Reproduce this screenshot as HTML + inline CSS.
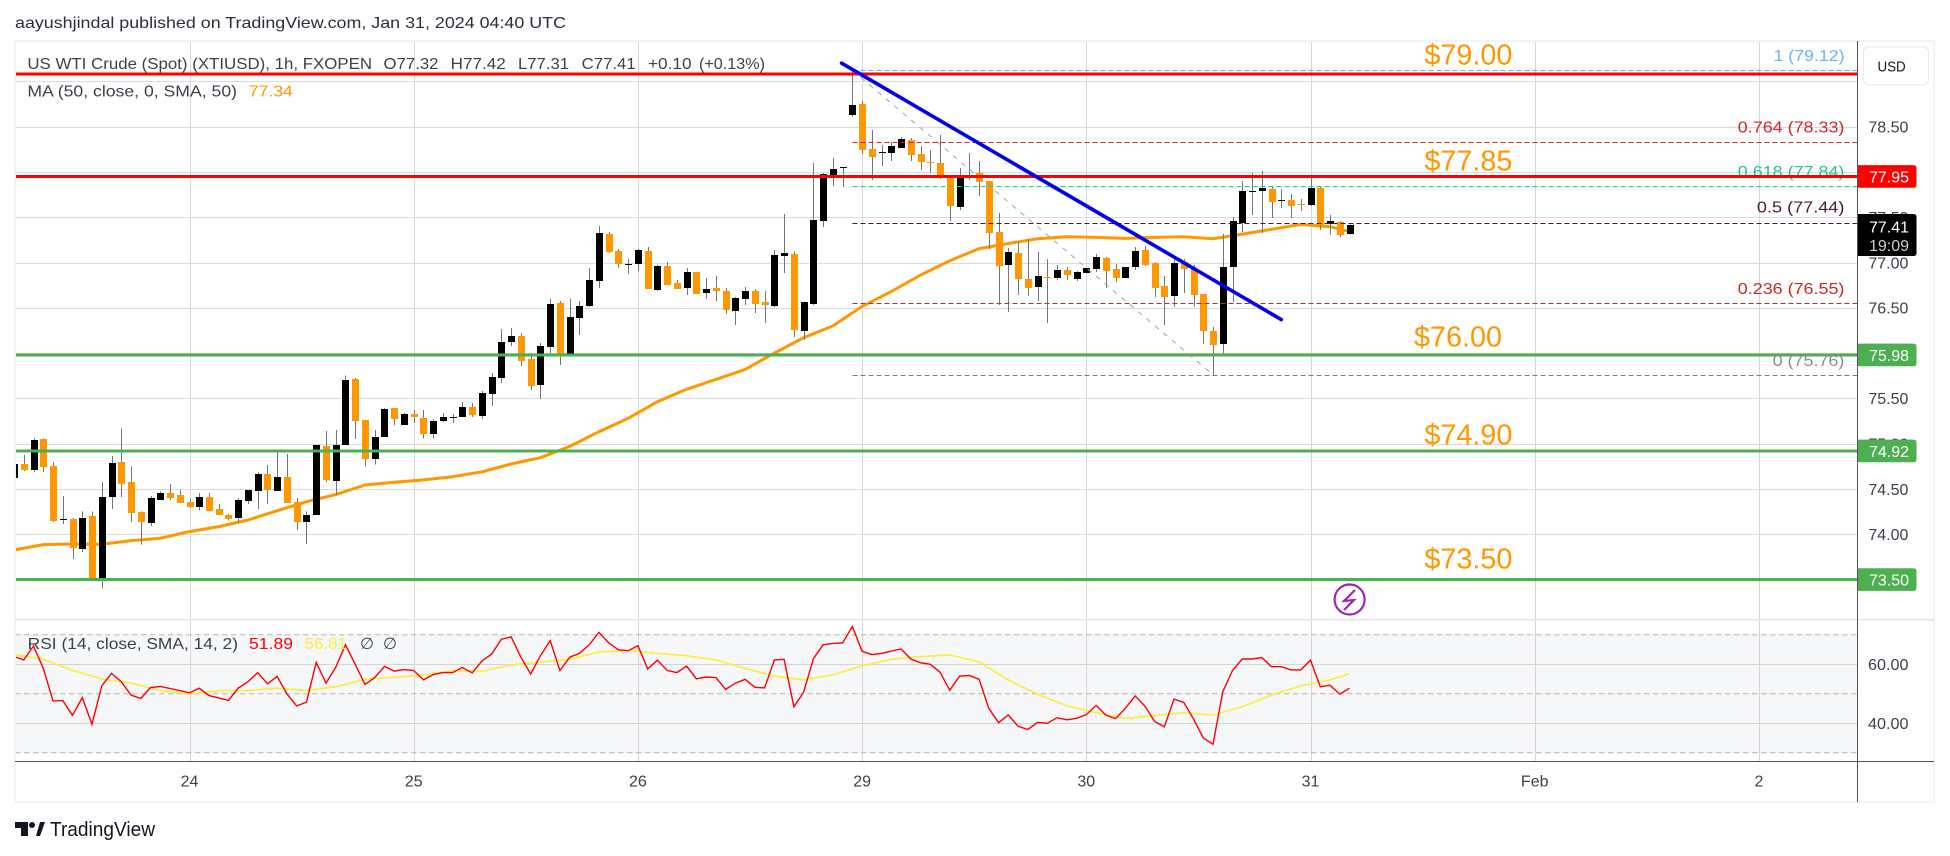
<!DOCTYPE html>
<html lang="en">
<head>
<meta charset="utf-8">
<title>US WTI Crude (Spot) chart</title>
<style>
html,body{margin:0;padding:0;background:#fff;width:1950px;height:856px;overflow:hidden}
svg{display:block}
text{font-family:"Liberation Sans",sans-serif;font-size:16px}
</style>
</head>
<body>
<svg id="chart" width="1950" height="856" viewBox="0 0 1950 856" xmlns="http://www.w3.org/2000/svg">
  <text x="15" y="28" textLength="551" lengthAdjust="spacingAndGlyphs" fill="#2a2e39">aayushjindal published on TradingView.com, Jan 31, 2024 04:40 UTC</text>
  <g id="rsi-band-layer"></g>
  <g id="grid-layer"></g>
  <g id="legend-layer">
    <text x="27.4" y="69" textLength="344.6" lengthAdjust="spacingAndGlyphs" fill="#3d404a">US WTI Crude (Spot) (XTIUSD), 1h, FXOPEN</text>
    <text x="383.5" y="69" textLength="55" lengthAdjust="spacingAndGlyphs" fill="#3d404a">O77.32</text>
    <text x="450.7" y="69" textLength="55" lengthAdjust="spacingAndGlyphs" fill="#3d404a">H77.42</text>
    <text x="518" y="69" textLength="51" lengthAdjust="spacingAndGlyphs" fill="#3d404a">L77.31</text>
    <text x="581.7" y="69" textLength="54" lengthAdjust="spacingAndGlyphs" fill="#3d404a">C77.41</text>
    <text x="648" y="69" textLength="43.5" lengthAdjust="spacingAndGlyphs" fill="#3d404a">+0.10</text>
    <text x="699" y="69" textLength="66" lengthAdjust="spacingAndGlyphs" fill="#3d404a">(+0.13%)</text>
    <text x="27.4" y="96.5" textLength="209.6" lengthAdjust="spacingAndGlyphs" fill="#3d404a">MA (50, close, 0, SMA, 50)</text>
    <text x="248.8" y="96.5" textLength="44" lengthAdjust="spacingAndGlyphs" fill="#ff9800">77.34</text>
  </g>
  <g id="fib-label-layer">
    <text x="1773.5" y="61" textLength="71" lengthAdjust="spacingAndGlyphs" fill="#64b5f6">1 (79.12)</text>
    <text x="1737.8" y="132.7" textLength="106.6" lengthAdjust="spacingAndGlyphs" fill="#d81f2a">0.764 (78.33)</text>
    <text x="1737.8" y="177" textLength="106.6" lengthAdjust="spacingAndGlyphs" fill="#22c490">0.618 (77.84)</text>
    <text x="1756.9" y="212.7" textLength="87.5" lengthAdjust="spacingAndGlyphs" fill="#4a1a3a">0.5 (77.44)</text>
    <text x="1737.8" y="294" textLength="106.6" lengthAdjust="spacingAndGlyphs" fill="#c62828">0.236 (76.55)</text>
    <text x="1772.6" y="366" textLength="71.8" lengthAdjust="spacingAndGlyphs" fill="#8c8c8c">0 (75.76)</text>
  </g>
  <g id="ma-layer"></g>
  <g id="candle-layer" shape-rendering="crispEdges"></g>
  <g id="fib-layer"></g>
  <g id="level-layer"></g>
  <g id="trend-layer"></g>
  <g fill="#ff9800">
    <text x="1424.4" y="64.5" textLength="88" lengthAdjust="spacingAndGlyphs" style="font-size:29px" fill="#ff9800">$79.00</text>
    <text x="1424.4" y="170.7" textLength="88" lengthAdjust="spacingAndGlyphs" style="font-size:29px" fill="#ff9800">$77.85</text>
    <text x="1414" y="346.7" textLength="88" lengthAdjust="spacingAndGlyphs" style="font-size:29px" fill="#ff9800">$76.00</text>
    <text x="1424.4" y="444.3" textLength="88" lengthAdjust="spacingAndGlyphs" style="font-size:29px" fill="#ff9800">$74.90</text>
    <text x="1424.4" y="568.3" textLength="88" lengthAdjust="spacingAndGlyphs" style="font-size:29px" fill="#ff9800">$73.50</text>
  </g>
  <g>
    <circle cx="1349.6" cy="599.5" r="15" fill="#fff" stroke="#9c27b0" stroke-width="2.2"/>
    <path d="M1355 590 L1344 601 L1354 600 L1344 610" fill="none" stroke="#9c27b0" stroke-width="2.2"/>
  </g>
  <g id="rsi-layer"></g>
  <g>
    <text x="27.7" y="649" textLength="210.3" lengthAdjust="spacingAndGlyphs" fill="#3d404a">RSI (14, close, SMA, 14, 2)</text>
    <text x="249" y="649" textLength="44" lengthAdjust="spacingAndGlyphs" fill="#ff0000">51.89</text>
    <text x="304.5" y="649" textLength="42.5" lengthAdjust="spacingAndGlyphs" fill="#ffeb3b">56.81</text>
    <text x="360" y="649" fill="#3d404a">∅</text>
    <text x="383" y="649" fill="#3d404a">∅</text>
  </g>
  <g shape-rendering="crispEdges">
    <rect x="15" y="41" width="1919" height="761" fill="none" stroke="#f0f3fa" stroke-width="2"/>
    <rect x="15" y="619" width="1919" height="1.6" fill="#e3e5ec"/>
    <line x1="15" y1="761.5" x2="1934" y2="761.5" stroke="#50535e" stroke-width="1"/>
    <line x1="1857.5" y1="41" x2="1857.5" y2="802" stroke="#50535e" stroke-width="1"/>
  </g>
  <g id="axis-layer"></g>
  <g id="badge-layer"></g>
  <g>
    <rect x="1863.5" y="47" width="65" height="38" rx="5" fill="#fff" stroke="#e6e8ef" stroke-width="1"/>
    <text x="1877.5" y="71.7" textLength="28.2" lengthAdjust="spacingAndGlyphs" style="font-size:15px" fill="#131722">USD</text>
  </g>
  <g>
    <path d="M15 822 H28 V836 H21 V828 H15 Z" fill="#131722"/>
    <circle cx="32" cy="825" r="3" fill="#131722"/>
    <path d="M36 836 L40 822 H45 L40 836 Z" fill="#131722"/>
    <text x="50" y="836" textLength="105" lengthAdjust="spacingAndGlyphs" style="font-size:20px" fill="#131722">TradingView</text>
  </g>
</svg>
<script>
const opens = [74.622,74.776,74.71,75.05,74.754,74.16,74.17,73.84,74.2,73.51,74.41,74.8,74.578,74.247,74.125,74.38,74.456,74.435,74.357,74.3,74.41,74.28,74.213,74.18,74.37,74.478,74.666,74.478,74.633,74.357,74.136,74.213,74.975,74.589,74.986,75.714,75.262,74.83,75.073,75.394,75.206,75.327,75.283,75.106,75.25,75.283,75.294,75.405,75.305,75.548,75.725,76.122,76.188,75.934,75.647,76.067,76.553,75.99,76.387,76.519,76.795,77.314,77.126,76.972,76.983,77.126,76.696,76.961,76.773,76.718,76.895,76.664,76.719,76.686,76.465,76.597,76.686,76.564,76.52,77.072,77.094,76.244,76.542,77.458,77.966,78.043,78.628,78.75,78.253,78.209,78.209,78.264,78.352,78.198,78.11,78.099,77.966,77.613,77.955,77.988,77.9,77.337,76.973,77.105,76.818,76.729,76.84,76.829,76.917,76.818,76.884,76.928,77.049,76.928,76.829,76.95,77.138,76.994,76.74,76.63,77.005,76.928,76.652,76.244,76.1,76.95,77.436,77.778,77.789,77.811,77.679,77.69,77.645,77.634,77.822,77.425,77.447,77.32];
const highs = [74.776,74.876,75.06,75.06,74.79,74.42,74.18,74.25,74.25,74.58,74.865,75.17,74.75,74.25,74.42,74.47,74.555,74.49,74.39,74.456,74.456,74.335,74.225,74.4,74.49,74.68,74.765,74.91,74.887,74.4,74.25,74.986,75.14,75.15,75.755,75.725,75.262,75.15,75.394,75.394,75.338,75.37,75.37,75.272,75.338,75.327,75.46,75.449,75.58,75.78,76.266,76.277,76.221,75.967,76.111,76.597,76.575,76.597,76.575,76.939,77.402,77.336,77.149,77.038,77.149,77.171,76.972,77.005,76.806,76.939,76.895,76.829,76.851,76.719,76.619,76.73,76.708,76.686,77.138,77.536,77.124,76.564,78.099,77.988,78.154,78.054,79.12,78.783,78.463,78.297,78.33,78.385,78.374,78.286,78.242,78.408,77.966,78.043,78.209,78.121,77.9,77.547,77.16,77.226,77.259,77.116,77.038,76.972,76.95,76.906,76.939,77.093,77.06,76.983,76.95,77.171,77.182,77.005,76.851,77.06,77.038,76.972,76.652,76.288,77.314,77.502,77.899,77.988,78.01,77.833,77.811,77.756,77.701,77.932,77.844,77.524,77.458,77.42];
const lows = [74.622,74.7,74.69,74.69,74.136,74.115,73.73,73.805,73.51,73.4,74.28,74.41,74.136,73.89,74.09,74.38,74.38,74.346,74.29,74.26,74.258,74.213,74.15,74.125,74.335,74.28,74.335,74.478,74.346,74.05,73.893,74.213,74.578,74.435,74.986,75.05,74.746,74.77,75.073,75.206,75.206,75.228,75.06,75.06,75.239,75.228,75.294,75.294,75.272,75.416,75.67,76.078,75.857,75.592,75.493,76,75.868,75.979,76.199,76.508,76.718,77.104,76.939,76.873,76.906,76.707,76.685,76.751,76.707,76.641,76.653,76.597,76.575,76.432,76.31,76.531,76.443,76.332,76.509,76.884,76.178,76.145,76.531,77.392,77.845,77.834,78.606,78.198,77.911,78.065,78.121,78.264,78.121,78.021,77.988,77.922,77.458,77.58,77.911,77.734,77.149,76.531,76.454,76.642,76.63,76.575,76.332,76.807,76.807,76.795,76.884,76.895,76.718,76.784,76.829,76.917,76.961,76.619,76.31,76.508,76.663,76.508,76.1,75.758,75.979,76.564,77.336,77.524,77.325,77.491,77.601,77.491,77.568,77.623,77.358,77.303,77.281,77.31];
const closes = [74.776,74.71,75.04,74.74,74.147,74.17,73.85,74.18,73.52,74.41,74.79,74.556,74.236,74.136,74.4,74.456,74.4,74.346,74.3,74.41,74.258,74.213,74.17,74.38,74.49,74.666,74.49,74.633,74.346,74.136,74.213,74.986,74.6,74.986,75.703,75.25,74.83,75.07,75.383,75.272,75.327,75.294,75.106,75.25,75.294,75.294,75.405,75.316,75.559,75.736,76.122,76.188,75.912,75.636,76.078,76.541,75.99,76.398,76.519,76.806,77.325,77.115,76.983,76.983,77.137,76.707,76.961,76.751,76.707,76.895,76.653,76.708,76.686,76.476,76.608,76.686,76.542,76.531,77.083,77.105,76.255,76.564,77.469,77.977,78.032,78.054,78.739,78.242,78.165,78.22,78.286,78.363,78.187,78.11,78.099,77.944,77.624,77.955,77.966,77.889,77.326,76.962,77.116,76.818,76.718,76.851,76.829,76.917,76.862,76.895,76.939,77.06,76.906,76.829,76.95,77.127,76.972,76.718,76.619,76.994,76.928,76.641,76.244,76.089,76.95,77.458,77.789,77.789,77.822,77.667,77.69,77.623,77.634,77.822,77.414,77.458,77.303,77.41];
const maBars = [0,3,6,9,12,15,18,21,24,27,30,33,36,39,42,45,48,51,54,57,60,63,66,69,72,75,78,81,84,87,90,93,96,99,102,105,108,111,114,117,120,123,126,129,132,135,137];
const maValues = [73.827,73.886,73.893,73.89,73.93,73.956,74.03,74.085,74.158,74.26,74.36,74.438,74.544,74.574,74.6,74.636,74.69,74.776,74.845,74.97,75.132,75.28,75.464,75.6,75.71,75.82,76,76.17,76.3,76.516,76.68,76.862,77.02,77.153,77.21,77.263,77.285,77.277,77.266,77.277,77.285,77.263,77.314,77.366,77.421,77.395,77.34];
const rsiValues = [62.6,61.5,66.2,58.6,47.6,47.7,42.7,48.7,39.7,52.7,56.9,54.1,49.6,48.4,52.1,52.5,51.8,51.1,50.3,51.9,49.4,48.6,47.8,51.9,54.1,57.2,53.4,55.9,49.9,45.9,47.2,60.6,53.6,59,66.6,60,53.2,55.5,59.3,57.7,58.2,57.9,54.7,56.5,57.2,57.2,58.9,57.1,61.1,63.5,68.5,69.3,62.4,56.7,62.9,68,57.9,62.4,63.7,66.6,70.8,67.3,64.9,64.6,66.3,58.4,61.4,57.9,57.2,59.4,55.1,55.7,55.5,51.5,53.6,54.9,52.2,52,61.5,61.7,45.6,50.5,61.9,66.6,67.1,67.3,72.8,64.4,63.3,63.7,64.5,65.2,61.8,60.5,60,57.3,51.2,56,56.2,54.9,45.1,40.2,42.8,39,37.9,40.3,40,41.9,41.2,41.7,42.9,46.1,42.8,41.6,45.1,49.3,45.9,40.6,38.8,48.2,47.1,41.5,35,32.9,50.7,57.9,61.8,61.8,62.3,59.2,59.2,58.1,58.1,61.4,52.4,52.9,49.9,51.89];
const rsiMaBars = [0,3,6,9,12,15,18,21,24,27,30,33,36,39,42,45,48,51,54,57,60,63,66,69,72,75,78,81,84,87,90,93,96,99,102,105,108,111,114,117,120,123,126,129,132,135,137];
const rsiMaValues = [63.4,61.7,57.9,55.1,53.6,51.1,49.9,51.1,51.1,51.9,51.1,52.4,54.9,55.6,56.4,57.9,57.6,59.8,60.7,61.7,64.2,64.6,63.7,62.9,61.5,58.6,56,54.7,56.4,59.5,61.7,62.6,63.2,60.8,54.7,49.9,45.9,43.6,41.6,42.6,43.6,42.8,45.6,49.6,52.7,54.7,56.81];
const dayTickBars = [18,41,64,87,110,133,156,179];
const dayTickLabels = ["24","25","26","29","30","31","Feb","2"];
const priceTicks = [79,78.5,78,77.5,77,76.5,76,75.5,75,74.5,74,73.5];
const priceTickLabels = ["78.50","77.50","77.00","76.50","75.50","75.00","74.50","74.00"];
const rsiTicks = [60,40];
const rsiBands = [70,50,30];
const resistanceLevels = [79.08,77.95];
const supportLevels = [75.98,74.92,73.5];
const fibLevels = [79.12,78.33,77.84,77.44,76.55,75.76];
const fibRatioNames = ["1","0-764","0-618","0-5","0-236","0"];
const fibColors = ["#5ab4ee","#f01c1c","#22cc94","#4a1a3a","#b8282e","#787b86"];
const fibTrend = {startBar:86,startPrice:79.12,endBar:123,endPrice:75.76};
const blueTrend = {startBar:84.9,startPrice:79.2,endBar:130,endPrice:76.37};

const NS = "http://www.w3.org/2000/svg";
const PLOT_LEFT = 15, PLOT_RIGHT = 1857;
function xScale(bar){ return 189.5 + (bar - 18) * 9.748; }
function yScale(price){ return 81.3 + (79 - price) * 90.6; }
function rsiScale(v){ return 664.3 + (60 - v) * 2.95; }
function make(tag, attrs, parent){
  const el = document.createElementNS(NS, tag);
  for (const k in attrs) el.setAttribute(k, attrs[k]);
  parent.appendChild(el);
  return el;
}
const gridLayer = document.getElementById("grid-layer");
const candleLayer = document.getElementById("candle-layer");
const maLayer = document.getElementById("ma-layer");
const fibLayer = document.getElementById("fib-layer");
const levelLayer = document.getElementById("level-layer");
const trendLayer = document.getElementById("trend-layer");
const rsiLayer = document.getElementById("rsi-layer");
const bandLayer = document.getElementById("rsi-band-layer");
const axisLayer = document.getElementById("axis-layer");
const badgeLayer = document.getElementById("badge-layer");

const band = make("rect", {x:PLOT_LEFT, y:rsiScale(70), width:PLOT_RIGHT-PLOT_LEFT, height:rsiScale(30)-rsiScale(70), fill:"#f5f7f9"}, bandLayer);



priceTicks.forEach(function(p){
  const line = make("line", {x1:PLOT_LEFT, x2:PLOT_RIGHT, y1:Math.round(yScale(p))+0.5, y2:Math.round(yScale(p))+0.5, stroke:"#dadada", "stroke-width":1}, gridLayer);
  
  
});
rsiTicks.forEach(function(r){
  const line = make("line", {x1:PLOT_LEFT, x2:PLOT_RIGHT, y1:Math.round(rsiScale(r))+0.5, y2:Math.round(rsiScale(r))+0.5, stroke:"#d4d4d4", "stroke-width":1}, gridLayer);
  
  
});
dayTickBars.forEach(function(b){
  const line = make("line", {x1:Math.round(xScale(b))+0.5, x2:Math.round(xScale(b))+0.5, y1:41, y2:761, stroke:"#d6d6d6", "stroke-width":1}, gridLayer);
  
  
});
rsiBands.forEach(function(r){
  const line = make("line", {x1:PLOT_LEFT, x2:PLOT_RIGHT, y1:rsiScale(r), y2:rsiScale(r), stroke:"#b6b6b6", "stroke-width":1, "stroke-dasharray":"5.5 3.5"}, gridLayer);
  
  
});

const maPts = maBars.map(function(b, i){ return xScale(b).toFixed(1) + "," + yScale(maValues[i]).toFixed(1); }).join(" ");
const maLine = make("polyline", {points:maPts, fill:"none", stroke:"#ff9800", "stroke-width":3, "stroke-linejoin":"round"}, maLayer);


const maClip = make("clipPath", {id:"plot-clip"}, maLayer);
make("rect", {x:PLOT_LEFT, y:41, width:PLOT_RIGHT-PLOT_LEFT, height:720}, maClip);
maLine.setAttribute("clip-path", "url(#plot-clip)");
candleLayer.setAttribute("clip-path", "url(#plot-clip)");

opens.forEach(function(o, i){
  const c = closes[i], up = c >= o;
  const cx = Math.round(xScale(i));
  const top = Math.round(yScale(Math.max(o, c)));
  const bot = Math.round(yScale(Math.min(o, c)));
  const g = make("g", {}, candleLayer);
  
  
  const wick = make("rect", {x:cx, y:yScale(highs[i]), width:1, height:Math.max(1, yScale(lows[i]) - yScale(highs[i])), fill:"#757575"}, g);
  
  
  const body = make("rect", {x:cx-3, y:top, width:7, height:Math.max(1, bot-top), fill:up ? "#000000" : "#ff9800"}, g);
  
  
});

const fibDiag = make("line", {x1:xScale(fibTrend.startBar), y1:yScale(fibTrend.startPrice), x2:xScale(fibTrend.endBar), y2:yScale(fibTrend.endPrice), stroke:"#a3a3a3", "stroke-width":1, "stroke-dasharray":"5 6"}, fibLayer);


fibLevels.forEach(function(p, i){
  const line = make("line", {x1:xScale(fibTrend.startBar), x2:PLOT_RIGHT, y1:Math.round(yScale(p))+0.5, y2:Math.round(yScale(p))+0.5, stroke:fibColors[i], "stroke-width":1, "stroke-dasharray":"5 3", "shape-rendering":"crispEdges"}, fibLayer);
  
  
});

resistanceLevels.forEach(function(p){
  const line = make("line", {x1:PLOT_LEFT, x2:PLOT_RIGHT, y1:yScale(p), y2:yScale(p), stroke:"#ff0000", "stroke-width":3, "shape-rendering":"crispEdges"}, levelLayer);
  
  
});
supportLevels.forEach(function(p){
  const line = make("line", {x1:PLOT_LEFT, x2:PLOT_RIGHT, y1:yScale(p), y2:yScale(p), stroke:"#4caf50", "stroke-width":3, "shape-rendering":"crispEdges"}, levelLayer);
  
  
});

const blue = make("line", {x1:xScale(blueTrend.startBar), y1:yScale(blueTrend.startPrice), x2:xScale(blueTrend.endBar), y2:yScale(blueTrend.endPrice), stroke:"#0000ee", "stroke-width":3.6, "stroke-linecap":"round"}, trendLayer);



const rsiPts = rsiValues.map(function(v, i){ return xScale(i).toFixed(1) + "," + rsiScale(v).toFixed(1); }).join(" ");
const rsiMaPts = rsiMaBars.map(function(b, i){ return xScale(b).toFixed(1) + "," + rsiScale(rsiMaValues[i]).toFixed(1); }).join(" ");
const rsiMaLine = make("polyline", {points:rsiMaPts, fill:"none", stroke:"#ffeb3b", "stroke-width":1.6, "clip-path":"url(#plot-clip)"}, rsiLayer);


const rsiLine = make("polyline", {points:rsiPts, fill:"none", stroke:"#ff0000", "stroke-width":1.4, "clip-path":"url(#plot-clip)"}, rsiLayer);



priceTickLabels.forEach(function(t){
  const el = make("text", {x:1868.4, y:yScale(parseFloat(t)) + 5.8, fill:"#3d404a", textLength:40, lengthAdjust:"spacingAndGlyphs"}, axisLayer);
  el.textContent = t;
  
  
});
rsiTicks.forEach(function(r){
  const el = make("text", {x:1868, y:rsiScale(r) + 5.8, fill:"#3d404a", textLength:40.5, lengthAdjust:"spacingAndGlyphs"}, axisLayer);
  el.textContent = r.toFixed(2);
  
  
});
dayTickBars.forEach(function(b, i){
  const el = make("text", {x:xScale(b), y:786.7, fill:"#3d404a", "text-anchor":"middle"}, axisLayer);
  el.textContent = dayTickLabels[i];
  
  
});

function badge(price, color, name){
  const cy = yScale(price);
  const g = make("g", {}, badgeLayer);
  
  
  const l = 1858, r = 1916.5, t = cy - 11.3, b = cy + 11.3;
  make("path", {d:"M"+l+" "+t+" H"+(r-3)+" Q"+r+" "+t+" "+r+" "+(t+3)+" V"+(b-3)+" Q"+r+" "+b+" "+(r-3)+" "+b+" H"+l+" Z", fill:color}, g);
  const tx = make("text", {x:1869, y:cy + 6, fill:"#ffffff", textLength:40, lengthAdjust:"spacingAndGlyphs"}, g);
  tx.textContent = price.toFixed(2);
}
badge(resistanceLevels[1], "#ff0000", "badge-77-95");
supportLevels.forEach(function(p){ badge(p, "#4caf50", "badge-support"); });

const lastClose = closes[closes.length - 1];
const lastBadge = make("g", {}, badgeLayer);


make("path", {d:"M1858 214 H1913.5 Q1916.5 214 1916.5 217 V253 Q1916.5 256 1913.5 256 H1858 Z", fill:"#000000"}, lastBadge);
const lastText = make("text", {x:1869, y:232.5, fill:"#ffffff", textLength:40, lengthAdjust:"spacingAndGlyphs"}, lastBadge);
lastText.textContent = lastClose.toFixed(2);
const countdown = make("text", {x:1869, y:251, fill:"#cfcfcf", textLength:40, lengthAdjust:"spacingAndGlyphs"}, lastBadge);
countdown.textContent = "19:09";
</script>
</body>
</html>
